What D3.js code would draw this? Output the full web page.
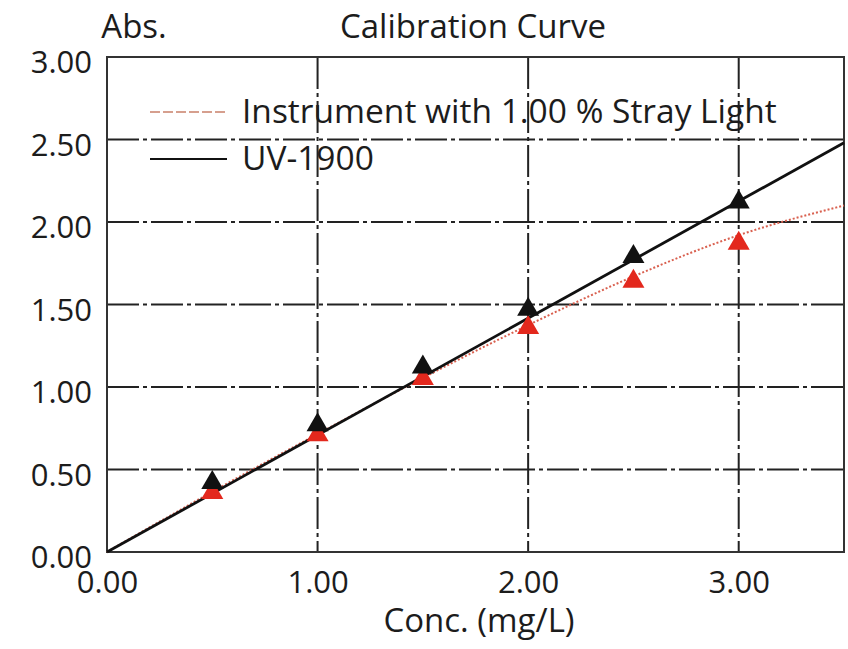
<!DOCTYPE html>
<html><head><meta charset="utf-8">
<script src="https://cdn.jsdelivr.net/npm/d3@7"></script>
<style>body{margin:0;background:#fff}svg{display:block}text{font-family:'Open Sans',sans-serif;fill:#1c1c1c}</style>
</head><body><div id="chart"></div>
<script>
const concentrations = [0.5, 1.0, 1.5, 2.0, 2.5, 3.0];
const uv1900Abs = [0.42, 0.77, 1.12, 1.47, 1.79, 2.12];
const strayAbs = [0.36, 0.71, 1.05, 1.36, 1.64, 1.87];
const uv1900LineX = [0, 3.5];
const uv1900LineY = [0, 2.48];
const strayCurveX = [0, 0.5, 1.0, 1.5, 2.0, 2.5, 3.0, 3.5];
const strayCurveY = [0, 0.365, 0.715, 1.055, 1.375, 1.67, 1.92, 2.10];
const xTicks = [0, 1, 2, 3];
const yTicks = [0, 0.5, 1.0, 1.5, 2.0, 2.5, 3.0];
const legendLabels = ["Instrument with 1.00 % Stray Light", "UV-1900"];

const W = 848, H = 649;
const m = {l:107, t:57, r:844, b:552};
const svg = d3.select('#chart').append('svg').attr('width', W).attr('height', H);
const x = d3.scaleLinear().domain([0, 3.5]).range([m.l, m.r]);
const y = d3.scaleLinear().domain([0, 3]).range([m.b, m.t]);

// grid
const dash = '32,4,4,4';
svg.append('g').selectAll('line').data(xTicks.filter(d => d > 0)).join('line')
  .attr('x1', d => x(d)).attr('x2', d => x(d)).attr('y1', m.t).attr('y2', m.b)
  .attr('stroke', '#222').attr('stroke-width', 2).attr('stroke-dasharray', dash);
svg.append('g').selectAll('line').data(yTicks.filter(d => d > 0 && d < 3)).join('line')
  .attr('x1', m.l).attr('x2', m.r).attr('y1', d => y(d)).attr('y2', d => y(d))
  .attr('stroke', '#222').attr('stroke-width', 2).attr('stroke-dasharray', dash);

// border
svg.append('rect').attr('x', m.l).attr('y', m.t).attr('width', m.r - m.l).attr('height', m.b - m.t)
  .attr('fill', 'none').attr('stroke', '#333').attr('stroke-width', 2);

// axes labels via d3 axes
const xAxis = svg.append('g').attr('transform', `translate(0,${m.b})`)
  .call(d3.axisBottom(x).tickValues(xTicks).tickFormat(d3.format('.2f')).tickSize(0).tickPadding(19));
xAxis.select('.domain').remove();
xAxis.selectAll('text').attr('font-size', 31).attr('font-family', "'Open Sans',sans-serif").attr('fill', '#1c1c1c');
const yAxis = svg.append('g').attr('transform', `translate(${m.l},0)`)
  .call(d3.axisLeft(y).tickValues(yTicks).tickFormat(d3.format('.2f')).tickSize(0).tickPadding(15));
yAxis.select('.domain').remove();
yAxis.selectAll('text').attr('font-size', 31).attr('font-family', "'Open Sans',sans-serif").attr('fill', '#1c1c1c').attr('dy', '0.5em');

// lines
const line = d3.line().x(d => x(d[0])).y(d => y(d[1]));
svg.append('path').datum(strayCurveX.map((d,i) => [d, strayCurveY[i]]))
  .attr('d', line.curve(d3.curveMonotoneX)).attr('fill', 'none')
  .attr('stroke', '#d9604f').attr('stroke-width', 2).attr('stroke-dasharray', '2,2');
svg.append('path').datum(uv1900LineX.map((d,i) => [d, uv1900LineY[i]]))
  .attr('d', d3.line().x(d => x(d[0])).y(d => y(d[1]))).attr('fill', 'none')
  .attr('stroke', '#111').attr('stroke-width', 2.8);

// points
const tri = d3.symbol().type(d3.symbolTriangle).size(210);
svg.append('g').selectAll('path').data(concentrations).join('path')
  .attr('d', tri).attr('transform', (d,i) => `translate(${x(d)},${y(strayAbs[i])})`)
  .attr('fill', '#e3281d');
svg.append('g').selectAll('path').data(concentrations).join('path')
  .attr('d', tri).attr('transform', (d,i) => `translate(${x(d)},${y(uv1900Abs[i])})`)
  .attr('fill', '#111');

// legend
svg.append('line').attr('x1', 150).attr('x2', 227).attr('y1', 112).attr('y2', 112)
  .attr('stroke', '#c9806a').attr('stroke-width', 1.5).attr('stroke-dasharray', '10,3');
svg.append('line').attr('x1', 150).attr('x2', 227).attr('y1', 159).attr('y2', 159)
  .attr('stroke', '#111').attr('stroke-width', 2);
svg.append('text').attr('x', 242).attr('y', 123).attr('font-size', 33.5).text(legendLabels[0]);
svg.append('text').attr('x', 242).attr('y', 170).attr('font-size', 33.5).text(legendLabels[1]);

// titles
svg.append('text').attr('x', 473).attr('y', 38).attr('text-anchor', 'middle').attr('font-size', 33).text('Calibration Curve');
svg.append('text').attr('x', 134).attr('y', 38).attr('text-anchor', 'middle').attr('font-size', 33).text('Abs.');
svg.append('text').attr('x', 479).attr('y', 632).attr('text-anchor', 'middle').attr('font-size', 33).text('Conc. (mg/L)');
</script></body></html>
